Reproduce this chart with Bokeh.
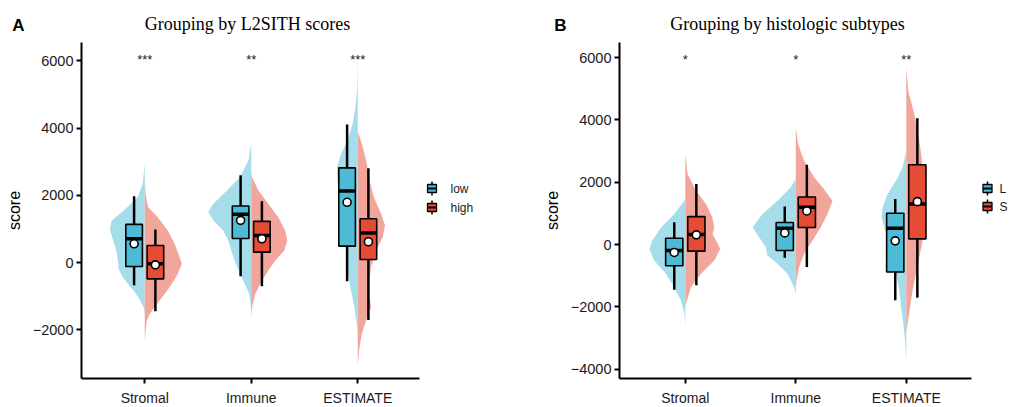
from bokeh.plotting import figure
from bokeh.models import ColumnDataSource, FixedTicker, Range1d, CustomJSTickFormatter
from bokeh.layouts import row
from bokeh.embed import file_html
from bokeh.resources import INLINE
from bokeh.core.properties import value

# ---------------- data ----------------
categories = ["Stromal", "Immune", "ESTIMATE"]
yticks_a = [-2000, 0, 2000, 4000, 6000]
yticks_b = [-4000, -2000, 0, 2000, 4000, 6000]

# Panel A: grouping by L2SITH scores
a_groups = ["low", "high"]
a_sig = ["***", "**", "***"]
a_low_wlo = [-677, -408, -558]
a_low_q1 = [-119, 716, 487]
a_low_med = [707, 1433, 2128]
a_low_q3 = [1134, 1681, 2815]
a_low_whi = [1970, 2597, 4110]
a_low_mean = [557, 1254, 1791]
a_high_wlo = [-1453, -706, -1711]
a_high_q1 = [-487, 308, 90]
a_high_med = [-40, 806, 875]
a_high_q3 = [507, 1224, 1304]
a_high_whi = [985, 1821, 2806]
a_high_mean = [-70, 707, 617]

# violin outlines (score level, half-width density)
a_low_stromal_y = [2950, 2350, 1950, 1550, 1250, 1000, 700, 400, 100, -200, -450, -800, -1100, -1350, -1550]
a_low_stromal_d = [0, 2, 7, 21, 33, 35, 32, 29, 27, 26, 22, 12, 5, 1, 0]
a_low_immune_y = [3550, 3050, 2550, 2150, 1750, 1500, 1250, 955, 657, 260, -140, -540, -935, -1300, -1630]
a_low_immune_d = [0, 2.7, 11, 24, 38, 43, 38, 28, 23, 19, 14, 8, 2, 0.5, 0]
a_low_estimate_y = [6000, 5134, 4637, 4140, 3642, 3244, 2846, 2547, 2149, 1652, 1154, 657, 159, -338, -836, -1333, -1831, -2130]
a_low_estimate_d = [0, 0.7, 2.3, 5, 10, 16.7, 20.7, 20.7, 19, 15, 11.7, 10, 11.7, 10, 6.7, 3.3, 1, 0]
a_high_stromal_y = [2500, 2000, 1650, 1350, 950, 550, 150, -40, -340, -640, -935, -1235, -1530, -1730, -2000, -2330]
a_high_stromal_d = [0, 1, 3.3, 13, 23, 30, 35, 37, 33, 27, 20, 12, 5, 2, 1, 0]
a_high_immune_y = [2750, 2550, 2150, 1750, 1350, 955, 657, 358, 60, -240, -636, -935, -1300, -1630]
a_high_immune_d = [0, 0.7, 7, 17, 27, 34, 36, 33, 24, 17, 9, 4, 1, 0]
a_high_estimate_y = [3900, 3841, 3443, 2946, 2448, 1950, 1453, 1104, 756, 358, -139, -537, -935, -1333, -1731, -2130, -2528, -3075]
a_high_estimate_d = [0, 0.7, 5, 9, 11.7, 16, 23.3, 27.3, 25, 18.3, 13.3, 11.7, 11.7, 13.3, 8.3, 4, 1.7, 0]

# Panel B: grouping by histologic subtypes
b_groups = ["L", "S"]
b_sig = ["*", "*", "**"]
b_l_wlo = [-1451, -427, -1792]
b_l_q1 = [-683, -192, -885]
b_l_med = [-192, 523, 523]
b_l_q3 = [203, 704, 1003]
b_l_whi = [715, 1216, 1461]
b_l_mean = [-256, 373, 117]
b_s_wlo = [-1312, -725, -1707]
b_s_q1 = [-213, 544, 181]
b_s_med = [320, 1195, 1301]
b_s_q3 = [896, 1525, 2560]
b_s_whi = [1941, 2560, 4053]
b_s_mean = [309, 1077, 1376]

b_l_stromal_y = [1450, 981, 555, 128, -149, -523, -949, -1376, -1803, -2200, -2600]
b_l_stromal_d = [0, 11, 24, 33, 36, 31, 19.3, 11, 4.3, 1, 0]
b_l_immune_y = [2101, 1835, 1408, 981, 555, 235, -85, -352, -619, -939, -1365, -1579]
b_l_immune_d = [0, 5, 18.3, 33.3, 43.3, 36.7, 30, 28.3, 18.3, 8.3, 1.7, 0]
b_l_estimate_y = [3008, 2475, 2048, 1621, 1195, 875, 555, 128, -405, -939, -1472, -2005, -2539, -3072, -3712]
b_l_estimate_d = [0, 3.7, 10.3, 18.7, 23.7, 24.7, 22, 17, 13.7, 10.3, 7, 5.3, 3, 1.3, 0]
b_s_stromal_y = [2901, 2261, 1728, 1301, 875, 555, 341, -139, -512, -939, -1365, -1899, -2050]
b_s_stromal_d = [0, 2.3, 10.7, 20.7, 27, 29, 27.3, 35, 29, 15.7, 5.7, 0.7, 0]
b_s_immune_y = [3754, 3221, 2688, 2155, 1835, 1408, 981, 555, 128, -299, -725, -1152, -1400]
b_s_immune_d = [0, 2.3, 8.3, 18.3, 26.7, 36.7, 31.7, 25, 16.7, 8.3, 3.3, 0.7, 0]
b_s_estimate_y = [5675, 4928, 4395, 3861, 3328, 2795, 2261, 1728, 1195, 661, 128, -405, -939, -1472, -2005, -2539, -2859]
b_s_estimate_d = [0, 2, 6.3, 10.3, 13, 15.3, 16.3, 17, 17.3, 17, 16.3, 13, 9.7, 6.3, 3.7, 1.3, 0]

# ---------------- style ----------------
BOX_COLORS = ["#4DBBD5", "#E64B35"]
VIOLIN_COLORS = ["#A6DDEA", "#F2A59A"]
SANS = "Liberation Sans"
SERIF = "Liberation Serif"
FIG_H = 407


def make_panel(geom, groups, stats, violins, sig, sig_y, title, letter, yticks):
    g = geom
    ppu = g["ppu"]
    x_axis0 = 1 - (g["cat1_px"] - g["ax_l"]) / ppu            # x value at the y-axis line
    y_axis_top = (g["zero_px"] - g["ax_t"]) / g["ppk"] * 1000   # y value at the top of the y-axis

    def px_x(px):
        return x_axis0 + (px - g["ax_l"]) / ppu

    def px_y(py):
        return y_axis_top - (py - g["ax_t"]) / g["ppk"] * 1000

    def dy(pixels):
        return pixels / g["ppk"] * 1000

    p = figure(width=g["fig_w"], height=FIG_H,
               x_range=Range1d(px_x(g["fig_l"]), px_x(g["fig_l"] + g["fig_w"])),
               y_range=Range1d(px_y(FIG_H), px_y(0)),
               output_backend="svg", toolbar_location=None, min_border=0)
    p.xgrid.visible = False
    p.ygrid.visible = False
    p.outline_line_color = None
    p.background_fill_color = "white"

    xa = p.xaxis[0]
    ya = p.yaxis[0]
    xa.fixed_location = px_y(g["ax_b"])
    xa.bounds = (px_x(g["ax_l"]), px_x(g["ax_r"]))
    ya.fixed_location = px_x(g["ax_l"])
    ya.bounds = (px_y(g["ax_b"]), px_y(g["ax_t"]))
    xa.ticker = FixedTicker(ticks=list(range(1, len(categories) + 1)))
    xa.formatter = CustomJSTickFormatter(args=dict(labels=categories),
                                         code="return labels[Math.round(tick) - 1] || '';")
    ya.ticker = FixedTicker(ticks=yticks)
    ya.formatter = CustomJSTickFormatter(code="return tick < 0 ? '\u2212' + Math.abs(tick) : String(tick);")
    for ax in (xa, ya):
        ax.axis_line_width = 2
        ax.axis_line_color = "black"
        ax.major_tick_line_width = 2
        ax.major_tick_line_color = "black"
        ax.major_tick_out = 5
        ax.major_tick_in = 0
        ax.minor_tick_line_color = None
        ax.major_label_text_font = SANS
        ax.major_label_text_color = "#1a1a1a"
    xa.major_label_text_font_size = "14px"
    xa.major_label_standoff = 6
    ya.major_label_text_font_size = "14.5px"
    ya.major_label_standoff = 3
    ya.axis_label = "score"
    ya.axis_label_text_font = SANS
    ya.axis_label_text_font_style = "normal"
    ya.axis_label_text_font_size = "16px"
    ya.axis_label_text_color = "black"
    ya.axis_label_standoff = 7

    scale = 1.0 / ppu
    offset = 0.1
    box_w = 0.156

    # half violins
    for gi in range(2):
        side = -1 if gi == 0 else 1
        xs_list, ys_list = [], []
        for ci in range(len(categories)):
            vy, vd = violins[gi][ci]
            c = ci + 1
            xs_list.append([c] + [c + side * d * scale for d in vd] + [c])
            ys_list.append([vy[0]] + list(vy) + [vy[-1]])
        p.patches(xs=xs_list, ys=ys_list, fill_color=VIOLIN_COLORS[gi], line_color=None)

    # boxplots
    for gi in range(2):
        side = -1 if gi == 0 else 1
        wlo, q1, med, q3, whi, mean = stats[gi]
        xs = [ci + 1 + side * offset for ci in range(len(categories))]
        src = ColumnDataSource(dict(
            x=xs, xl=[x - box_w / 2 for x in xs], xr=[x + box_w / 2 for x in xs],
            wlo=wlo, q1=q1, med=med, q3=q3, whi=whi, mean=mean))
        p.segment(x0="x", y0="wlo", x1="x", y1="whi", source=src,
                  line_color="black", line_width=2.5)
        p.vbar(x="x", width=box_w, bottom="q1", top="q3", source=src,
               fill_color=BOX_COLORS[gi], line_color="black", line_width=1.6)
        p.segment(x0="xl", y0="med", x1="xr", y1="med", source=src,
                  line_color="black", line_width=3.5)
        p.scatter(x="x", y="mean", source=src, size=8, marker="circle",
                  fill_color="white", line_color="black", line_width=1.6)

    # significance labels
    p.text(x=list(range(1, len(categories) + 1)), y=[sig_y] * len(categories), text=sig,
           text_font=value(SANS), text_font_size=value("13px"), text_color="#222222",
           text_align="center", text_baseline="middle")

    # legend (boxplot keys)
    kx = px_x(g["key_x"])
    kw = 9 * scale
    for gi, name in enumerate(groups):
        ky = px_y(g["key_y"][gi])
        p.segment(x0=[kx], y0=[ky - dy(7)], x1=[kx], y1=[ky + dy(7)], line_color="black", line_width=1.5)
        p.vbar(x=[kx], width=kw, bottom=[ky - dy(4)], top=[ky + dy(4)],
               fill_color=BOX_COLORS[gi], line_color="black", line_width=1.3)
        p.segment(x0=[kx - kw / 2], y0=[ky], x1=[kx + kw / 2], y1=[ky], line_color="black", line_width=2)
        p.text(x=[px_x(g["label_x"])], y=[ky], text=[name], text_font=value(SANS),
               text_font_size=value("12px"), text_color="#1a1a1a",
               text_align="left", text_baseline="middle")

    # title and panel letter
    p.text(x=[px_x(g["title_cx"])], y=[px_y(23)], text=[title], text_font=value(SERIF),
           text_font_size=value("18px"), text_color="black",
           text_align="center", text_baseline="alphabetic")
    p.text(x=[px_x(g["letter_x"])], y=[px_y(25)], text=[letter], text_font=value(SANS),
           text_font_size=value("17px"), text_font_style="bold", text_color="black",
           text_align="center", text_baseline="alphabetic")
    return p


geom_a = dict(fig_l=0, fig_w=540, ax_l=81, ax_r=419, ax_t=42, ax_b=378,
              cat1_px=144.25, ppu=106.5, zero_px=262, ppk=33.6,
              key_x=431.5, key_y=[188, 207], label_x=450, title_cx=247, letter_x=18)
geom_b = dict(fig_l=540, fig_w=469, ax_l=619, ax_r=971, ax_t=42, ax_b=378,
              cat1_px=684.8, ppu=110.5, zero_px=244, ppk=31.15,
              key_x=987, key_y=[188, 206], label_x=999, title_cx=787, letter_x=560)

stats_a = [
    (a_low_wlo, a_low_q1, a_low_med, a_low_q3, a_low_whi, a_low_mean),
    (a_high_wlo, a_high_q1, a_high_med, a_high_q3, a_high_whi, a_high_mean),
]
violins_a = [
    [(a_low_stromal_y, a_low_stromal_d), (a_low_immune_y, a_low_immune_d), (a_low_estimate_y, a_low_estimate_d)],
    [(a_high_stromal_y, a_high_stromal_d), (a_high_immune_y, a_high_immune_d), (a_high_estimate_y, a_high_estimate_d)],
]
stats_b = [
    (b_l_wlo, b_l_q1, b_l_med, b_l_q3, b_l_whi, b_l_mean),
    (b_s_wlo, b_s_q1, b_s_med, b_s_q3, b_s_whi, b_s_mean),
]
violins_b = [
    [(b_l_stromal_y, b_l_stromal_d), (b_l_immune_y, b_l_immune_d), (b_l_estimate_y, b_l_estimate_d)],
    [(b_s_stromal_y, b_s_stromal_d), (b_s_immune_y, b_s_immune_d), (b_s_estimate_y, b_s_estimate_d)],
]

pa = make_panel(geom_a, a_groups, stats_a, violins_a, a_sig, 6050,
                "Grouping by L2SITH scores", "A", yticks_a)
pb = make_panel(geom_b, b_groups, stats_b, violins_b, b_sig, 5950,
                "Grouping by histologic subtypes", "B", yticks_b)

layout = row(pa, pb)
open("out.html", "w").write(file_html(layout, INLINE))
